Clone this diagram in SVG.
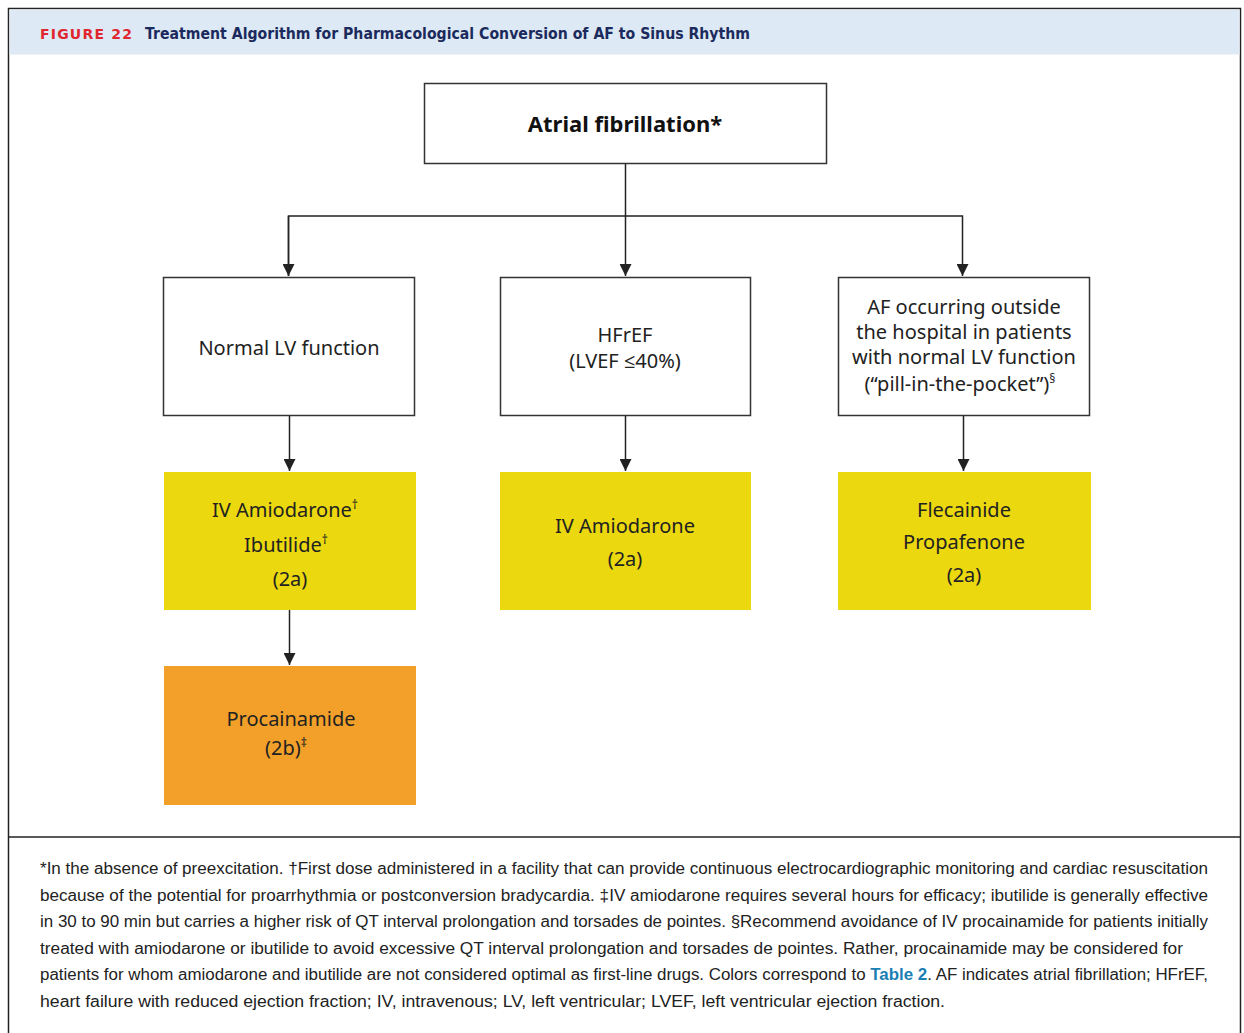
<svg xmlns="http://www.w3.org/2000/svg" width="1244" height="1033" viewBox="0 0 1244 1033">
<defs>
<marker id="ah" viewBox="0 0 10 10" refX="10" refY="5" markerWidth="12" markerHeight="12" markerUnits="userSpaceOnUse" orient="auto">
<path d="M0,0 L10,5 L0,10 Z" fill="#222"/>
</marker>
<style>
.box{fill:#fff;stroke:#333;stroke-width:1.5}
.yel{fill:#ebd80f}
.ora{fill:#f2a02a}
.t{font-family:"Noto Sans","Open Sans",sans-serif;font-size:20px;fill:#222;text-anchor:middle}
.tb{font-family:"Noto Sans","Open Sans",sans-serif;font-size:22px;font-weight:bold;fill:#111;text-anchor:middle}
.sup{font-size:12px}
.fn{font-family:"Liberation Sans",Arial,sans-serif;font-size:16px;fill:#222}
.conn line, .conn polyline{stroke:#222;stroke-width:1.5;fill:none}
</style>
</defs>
<rect x="0" y="0" width="1244" height="1033" fill="#fff"/>
<rect x="8.5" y="8.5" width="1232" height="1030" fill="none" stroke="#222" stroke-width="1.5"/>
<rect x="9.5" y="9.5" width="1230" height="45" fill="#dde9f5"/>
<line x1="8" y1="837" x2="1241" y2="837" stroke="#222" stroke-width="1.5"/>
<g id="title">
<text x="40" y="39" font-family="'DejaVu Sans',sans-serif" font-size="14" font-weight="bold" fill="#e0262f" letter-spacing="1.2">FIGURE 22</text>
<text x="145" y="39" font-family="'DejaVu Sans',sans-serif" font-size="15" font-weight="bold" fill="#1b2a5c" textLength="605" lengthAdjust="spacingAndGlyphs">Treatment Algorithm for Pharmacological Conversion of AF to Sinus Rhythm</text>
</g>
<g class="conn" id="connectors">
<line x1="625.5" y1="163" x2="625.5" y2="276" marker-end="url(#ah)"/>
<polyline points="288.5,276 288.5,216 962.5,216 962.5,276" marker-end="url(#ah)"/>
<line x1="288.5" y1="216" x2="288.5" y2="276" marker-end="url(#ah)"/>
<line x1="289.5" y1="416" x2="289.5" y2="471" marker-end="url(#ah)"/>
<line x1="625.5" y1="416" x2="625.5" y2="471" marker-end="url(#ah)"/>
<line x1="963.5" y1="416" x2="963.5" y2="471" marker-end="url(#ah)"/>
<line x1="289.5" y1="610" x2="289.5" y2="665" marker-end="url(#ah)"/>
</g>
<g id="n_af">
<rect class="box" x="424.5" y="83.5" width="402" height="80"/>
<text class="tb" x="625" y="132">Atrial fibrillation*</text>
</g>
<g id="n_normal">
<rect class="box" x="163.5" y="277.5" width="251" height="138"/>
<text class="t" x="289" y="355">Normal LV function</text>
</g>
<g id="n_hfref">
<rect class="box" x="500.5" y="277.5" width="250" height="138"/>
<text class="t" x="625" y="342">HFrEF</text>
<text class="t" x="625" y="368">(LVEF ≤40%)</text>
</g>
<g id="n_pip">
<rect class="box" x="838.5" y="277.5" width="251" height="138"/>
<text class="t" x="964" y="314">AF occurring outside</text>
<text class="t" x="964" y="339">the hospital in patients</text>
<text class="t" x="964" y="364">with normal LV function</text>
<text class="t" x="960" y="391">(“pill-in-the-pocket”)<tspan class="sup" dy="-8">§</tspan></text>
</g>
<g id="n_amio_ibu">
<rect class="yel" x="164" y="472" width="252" height="138"/>
<text class="t" x="285" y="517">IV Amiodarone<tspan class="sup" dy="-8">†</tspan></text>
<text class="t" x="286" y="552">Ibutilide<tspan class="sup" dy="-8">†</tspan></text>
<text class="t" x="290" y="586">(2a)</text>
</g>
<g id="n_amio">
<rect class="yel" x="500" y="472" width="251" height="138"/>
<text class="t" x="625" y="533">IV Amiodarone</text>
<text class="t" x="625" y="566">(2a)</text>
</g>
<g id="n_flec">
<rect class="yel" x="838" y="472" width="253" height="138"/>
<text class="t" x="964" y="517">Flecainide</text>
<text class="t" x="964" y="549">Propafenone</text>
<text class="t" x="964" y="582">(2a)</text>
</g>
<g id="n_proc">
<rect class="ora" x="164" y="666" width="252" height="139"/>
<text class="t" x="291" y="726">Procainamide</text>
<text class="t" x="286" y="755">(2b)<tspan class="sup" dy="-8">‡</tspan></text>
</g>
<g id="footnote">
<text class="fn" x="40" y="874" textLength="1168" lengthAdjust="spacingAndGlyphs">*In the absence of preexcitation. †First dose administered in a facility that can provide continuous electrocardiographic monitoring and cardiac resuscitation</text>
<text class="fn" x="40" y="901" textLength="1168" lengthAdjust="spacingAndGlyphs">because of the potential for proarrhythmia or postconversion bradycardia. ‡IV amiodarone requires several hours for efficacy; ibutilide is generally effective</text>
<text class="fn" x="40" y="927" textLength="1168" lengthAdjust="spacingAndGlyphs">in 30 to 90 min but carries a higher risk of QT interval prolongation and torsades de pointes. §Recommend avoidance of IV procainamide for patients initially</text>
<text class="fn" x="40" y="954" textLength="1143" lengthAdjust="spacingAndGlyphs">treated with amiodarone or ibutilide to avoid excessive QT interval prolongation and torsades de pointes. Rather, procainamide may be considered for</text>
<text class="fn" x="40" y="980" textLength="1168" lengthAdjust="spacingAndGlyphs">patients for whom amiodarone and ibutilide are not considered optimal as first-line drugs. Colors correspond to <tspan fill="#1a7fb5" font-weight="bold">Table 2</tspan>. AF indicates atrial fibrillation; HFrEF,</text>
<text class="fn" x="40" y="1007" textLength="905" lengthAdjust="spacingAndGlyphs">heart failure with reduced ejection fraction; IV, intravenous; LV, left ventricular; LVEF, left ventricular ejection fraction.</text>
</g>
</svg>
